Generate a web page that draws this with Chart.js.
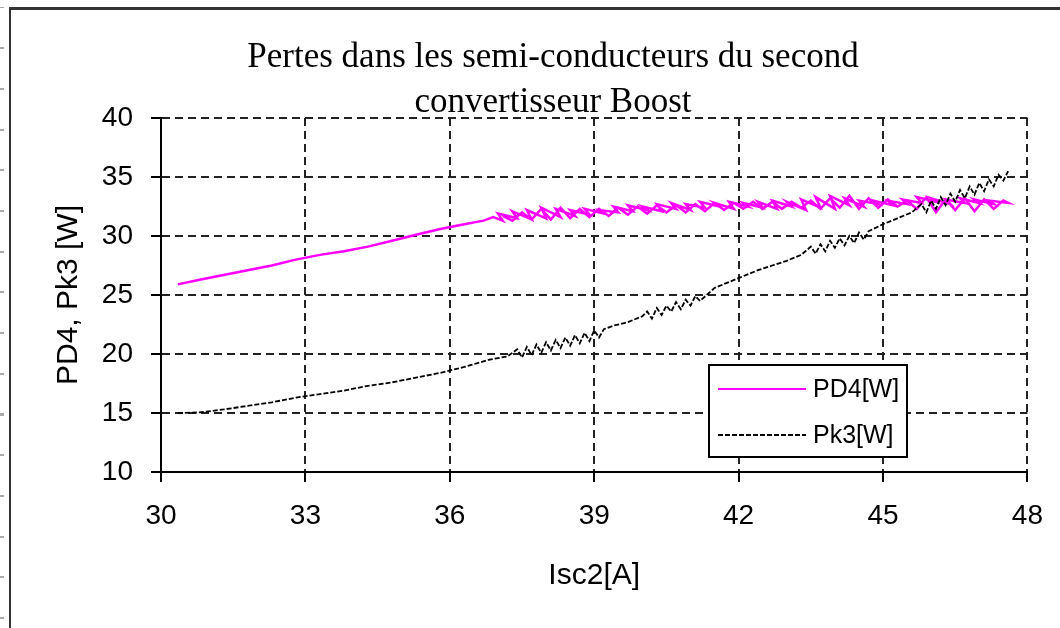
<!DOCTYPE html>
<html>
<head>
<meta charset="utf-8">
<script src="https://cdn.jsdelivr.net/npm/chart.js@4/dist/chart.umd.min.js"></script>
<style>
  body { margin: 0; background: #fff; }
  #wrap { position: relative; width: 1060px; height: 628px; overflow: hidden; background: #fff; }
  #frame { position: absolute; left: 9px; top: 7px; right: -10px; bottom: -10px;
           border-left: 2px solid #333; border-top: 3px solid #333; }
  #marks { position: absolute; left: 0; top: 0; width: 4px; height: 628px;
           background: repeating-linear-gradient(to bottom, transparent 0, transparent 6.5px,
             #aaa 6.5px, #aaa 8.5px, transparent 8.5px, transparent 40.7px); }
  canvas { position: absolute; left: 0; top: 0; }
</style>
</head>
<body>
<div id="wrap">
  <div id="marks"></div>
  <div id="frame"></div>
  <canvas id="lossChart" width="1060" height="628"></canvas>
</div>
<script>
// Pertes dans les semi-conducteurs, second Boost
const titleLines = ["Pertes dans les semi-conducteurs du second", "convertisseur Boost"];
const xTitle = "Isc2[A]";
const yTitle = "PD4, Pk3 [W]";

// PD4 [W] vs Isc2 [A] : montée, puis aller-retour bruité
const pd4X = [30.35, 30.8, 31.3, 31.8, 32.3, 32.8, 33.3, 33.8, 34.3, 34.8, 35.3, 35.8, 36.3, 36.7,
  36.9, 37.1, 37.0, 37.4, 37.3, 37.7, 37.6, 38.0, 37.9, 38.3, 38.2, 38.6, 38.5, 38.9, 38.8, 39.2,
  39.1, 39.5, 39.4, 39.8, 39.7, 40.1, 40.0, 40.4, 40.3, 40.7, 40.6, 41.0, 40.9, 41.3, 41.2, 41.6,
  41.5, 41.9, 41.8, 42.2, 42.1, 42.5, 42.4, 42.8, 42.7, 43.1, 43.0, 43.4, 43.3, 43.7, 43.6, 44.0,
  43.9, 44.3, 44.2, 44.6, 44.5, 44.9, 44.8, 45.2, 45.1, 45.5, 45.4, 45.8, 45.7, 46.1, 46.0, 46.4,
  46.3, 46.7, 46.6, 47.0, 46.9, 47.3, 47.2, 47.6,
  47.5, 47.3, 47.1, 46.9, 46.7, 46.5, 46.3, 46.1, 45.9, 45.7, 45.5, 45.3, 45.1, 44.9, 44.7, 44.5,
  44.3, 44.1, 43.9, 43.7, 43.5, 43.3, 43.1, 42.9, 42.7, 42.5, 42.3, 42.1, 41.9, 41.7, 41.5, 41.3,
  41.1, 40.9, 40.7, 40.5, 40.3, 40.1, 39.9, 39.7, 39.5, 39.3, 39.1, 38.9, 38.7, 38.5, 38.3, 38.1,
  37.9, 37.7, 37.5, 37.3, 37.1];
const pd4Y = [25.9, 26.3, 26.7, 27.1, 27.5, 28.0, 28.4, 28.7, 29.1, 29.6, 30.1, 30.6, 31.0, 31.3,
  31.6, 31.3, 31.9, 31.5, 32.1, 31.4, 32.2, 31.5, 32.4, 31.6, 32.3, 31.7, 32.2, 31.8, 32.3, 31.9,
  32.2, 32.0, 32.5, 32.1, 32.6, 32.2, 32.5, 32.1, 32.7, 32.3, 32.8, 32.2, 32.7, 32.4, 32.9, 32.5,
  32.8, 32.3, 32.9, 32.5, 32.8, 32.4, 32.9, 32.3, 33.0, 32.5, 32.9, 32.2, 33.1, 32.4, 33.3, 32.3,
  33.4, 32.6, 33.2, 32.5, 33.0, 32.7, 33.0, 32.6, 33.0, 32.7, 33.1, 32.8, 33.3, 32.9, 33.2, 32.7,
  33.1, 32.8, 33.2, 32.8, 33.1, 32.7, 33.0, 32.8,
  33.0, 32.3, 33.1, 32.1, 33.2, 32.2, 33.1, 32.0, 33.3, 32.3, 33.0, 32.5, 33.1, 32.4, 33.2, 32.3,
  33.4, 32.4, 33.2, 32.3, 33.0, 32.4, 32.9, 32.3, 32.9, 32.3, 32.9, 32.3, 32.8, 32.2, 32.8, 32.1,
  32.7, 32.0, 32.6, 32.0, 32.6, 31.9, 32.5, 31.8, 32.4, 31.7, 32.3, 31.6, 32.3, 31.5, 32.4, 31.4,
  32.3, 31.4, 32.0, 31.3, 31.7];

// Pk3 [W] vs Isc2 [A]
const pk3X = [30.35, 30.8, 31.3, 31.8, 32.3, 32.8, 33.3, 33.8, 34.3, 34.8, 35.3, 35.8, 36.3, 36.8, 37.2,
  37.4, 37.5, 37.6, 37.7, 37.8, 37.9, 38.0, 38.1, 38.2, 38.3, 38.4, 38.5, 38.6, 38.7, 38.8, 38.9,
  39.0, 39.1, 39.2, 39.4, 39.7, 40.0,
  40.1, 40.2, 40.3, 40.4, 40.5, 40.6, 40.7, 40.8, 40.9, 41.0, 41.1, 41.2,
  41.5, 41.8, 42.1, 42.4, 42.7, 43.0, 43.3,
  43.5, 43.6, 43.7, 43.8, 43.9, 44.0, 44.1, 44.2, 44.3, 44.4, 44.5, 44.6, 44.7,
  45.0, 45.3, 45.6,
  45.8, 45.9, 46.0, 46.1, 46.2, 46.3, 46.4, 46.5, 46.6, 46.7, 46.8, 46.9, 47.0, 47.1, 47.2,
  47.3, 47.4, 47.5, 47.6];
const pk3Y = [15.0, 15.05, 15.3, 15.6, 15.9, 16.3, 16.6, 16.9, 17.3, 17.6, 18.0, 18.4, 18.9, 19.5, 19.8,
  20.4, 19.7, 20.6, 19.9, 20.8, 20.1, 21.0, 20.3, 21.2, 20.5, 21.4, 20.7, 21.6, 20.9, 21.8, 21.1,
  22.0, 21.4, 22.1, 22.4, 22.7, 23.2,
  23.6, 23.0, 23.9, 23.3, 24.1, 23.6, 24.4, 23.8, 24.6, 24.1, 24.9, 24.5,
  25.6, 26.1, 26.6, 27.1, 27.5, 27.9, 28.4,
  29.1, 28.5, 29.3, 28.7, 29.6, 29.0, 29.8, 29.2, 30.0, 29.4, 30.3, 29.7, 30.4,
  31.0, 31.5, 32.0,
  32.7, 32.0, 33.0, 32.3, 33.3, 32.6, 33.6, 32.9, 33.9, 33.2, 34.2, 33.5, 34.5, 33.8, 34.8,
  34.2, 35.2, 34.7, 35.5];

const toPoints = (xs, ys) => xs.map((x, i) => ({ x: x, y: ys[i] }));

// titre en police à empattements, au-dessus du graphe
const serifTitle = {
  id: 'serifTitle',
  afterDraw(chart) {
    const ctx = chart.ctx;
    ctx.save();
    ctx.font = "35px 'Liberation Serif'";
    ctx.fillStyle = '#000';
    ctx.textAlign = 'center';
    ctx.textBaseline = 'alphabetic';
    titleLines.forEach((line, i) => ctx.fillText(line, 553, 67 + i * 45));
    ctx.restore();
  }
};

// légende encadrée dans la zone du graphe
const boxLegend = {
  id: 'boxLegend',
  afterDraw(chart) {
    const ctx = chart.ctx;
    const x = 709, y = 365, w = 198, h = 92;
    ctx.save();
    ctx.fillStyle = '#fff';
    ctx.fillRect(x, y, w, h);
    ctx.lineWidth = 2;
    ctx.strokeStyle = '#000';
    ctx.strokeRect(x, y, w, h);
    ctx.font = "25px 'Liberation Sans'";
    ctx.textBaseline = 'middle';
    chart.data.datasets.forEach((ds, i) => {
      const ly = y + 24 + i * 46;
      ctx.beginPath();
      ctx.setLineDash(ds.borderDash || []);
      ctx.lineWidth = Math.min(ds.borderWidth, 2);
      ctx.strokeStyle = ds.borderColor;
      ctx.moveTo(x + 9, ly);
      ctx.lineTo(x + 97, ly);
      ctx.stroke();
      ctx.setLineDash([]);
      ctx.fillStyle = '#000';
      ctx.fillText(ds.label, x + 104, ly + 1);
    });
    ctx.restore();
  }
};

const gridOpts = { color: '#222', lineWidth: 2, tickLength: 10, tickColor: '#000', tickWidth: 2 };
const borderOpts = { color: '#000', width: 2, dash: [8, 5] };

new Chart(document.getElementById('lossChart'), {
  type: 'scatter',
  data: {
    datasets: [{
      label: 'PD4[W]',
      data: toPoints(pd4X, pd4Y),
      showLine: true,
      borderColor: '#ff00ff',
      borderWidth: 2.5,
      pointRadius: 0,
      tension: 0,
      order: 1
    }, {
      label: 'Pk3[W]',
      data: toPoints(pk3X, pk3Y),
      showLine: true,
      borderColor: '#000',
      borderWidth: 1.8,
      borderDash: [5, 2],
      pointRadius: 0,
      tension: 0,
      order: 0
    }]
  },
  options: {
    responsive: false,
    animation: false,
    layout: { padding: { top: 118, right: 30, left: 0, bottom: 0 } },
    plugins: {
      legend: { display: false },
      tooltip: { enabled: false },
      title: { display: false }
    },
    scales: {
      x: {
        type: 'linear',
        min: 30,
        max: 48,
        ticks: { stepSize: 3, color: '#000', padding: 17, font: { family: 'Liberation Sans', size: 28 } },
        grid: gridOpts,
        border: borderOpts,
        title: { display: true, text: xTitle, color: '#000', padding: { top: 0, bottom: 34 },
                 font: { family: 'Liberation Sans', size: 30 } },
        afterFit: (scale) => { scale.height = 156; }
      },
      y: {
        min: 10,
        max: 40,
        ticks: { stepSize: 5, color: '#000', padding: 18, font: { family: 'Liberation Sans', size: 28 } },
        grid: gridOpts,
        border: borderOpts,
        title: { display: true, text: yTitle, color: '#000', padding: { top: 51, bottom: 0 },
                 font: { family: 'Liberation Sans', size: 30 } },
        afterFit: (scale) => { scale.width = 161; }
      }
    }
  },
  plugins: [serifTitle, boxLegend]
});
</script>
</body>
</html>
